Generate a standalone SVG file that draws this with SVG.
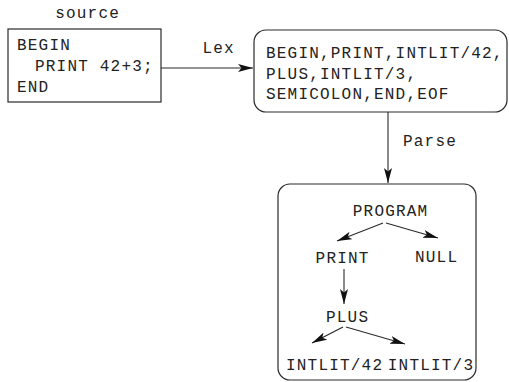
<svg xmlns="http://www.w3.org/2000/svg" width="509" height="382" viewBox="0 0 509 382">
  <style>
    text { font-family: "Liberation Mono", "Courier New", monospace; font-size: 16px; letter-spacing: 1.2px; fill: #222222; }
    .mid { text-anchor: middle; }
    .box { fill: #ffffff; stroke: #2a2a2a; stroke-width: 1.2; }
    .edge { fill: none; stroke: #2a2a2a; stroke-width: 1.1; marker-end: url(#head); }
  </style>
  <defs>
    <marker id="head" viewBox="0 0 15 8" refX="15" refY="4" markerWidth="15" markerHeight="8" markerUnits="userSpaceOnUse" orient="auto">
      <path d="M0,0 L15,4 L0,8 L3.5,4 z" fill="#111111"/>
    </marker>
  </defs>
  <rect width="509" height="382" fill="#ffffff"/>

  <!-- input program -->
  <g id="source">
    <text class="mid" x="87.6" y="18">source</text>
    <rect class="box" x="8" y="29" width="153" height="73"/>
    <text x="17" y="50">BEGIN</text>
    <text x="35" y="71">PRINT 42+3;</text>
    <text x="17" y="92">END</text>
  </g>

  <!-- token stream -->
  <g id="tokens">
    <rect class="box" x="254" y="30" width="253" height="82" rx="12" ry="12"/>
    <text x="266" y="58">BEGIN,PRINT,INTLIT/42,</text>
    <text x="266" y="78.5">PLUS,INTLIT/3,</text>
    <text x="266" y="99">SEMICOLON,END,EOF</text>
  </g>

  <!-- syntax tree -->
  <g id="tree">
    <rect class="box" x="278" y="184" width="198" height="196" rx="12" ry="12"/>
    <g id="n-program"><text class="mid" x="390.6" y="216">PROGRAM</text></g>
    <g id="n-print"><text class="mid" x="342.6" y="263">PRINT</text></g>
    <g id="n-null"><text class="mid" x="436.6" y="262">NULL</text></g>
    <g id="n-plus"><text class="mid" x="347.6" y="322">PLUS</text></g>
    <g id="n-intlit42"><text class="mid" x="334.6" y="370">INTLIT/42</text></g>
    <g id="n-intlit3"><text class="mid" x="431" y="370">INTLIT/3</text></g>
  </g>

  <!-- connectors -->
  <g id="connectors">
    <line class="edge" x1="161" y1="68" x2="253" y2="68"/>
    <text class="mid" x="218.6" y="53">Lex</text>
    <line class="edge" x1="388" y1="112" x2="388" y2="183"/>
    <text x="403" y="146">Parse</text>
    <line class="edge" x1="383" y1="223" x2="337" y2="241"/>
    <line class="edge" x1="386" y1="223" x2="438" y2="238"/>
    <line class="edge" x1="344" y1="269" x2="344" y2="304"/>
    <line class="edge" x1="343" y1="327" x2="312" y2="343"/>
    <line class="edge" x1="346" y1="327" x2="405" y2="344"/>
  </g>
</svg>
